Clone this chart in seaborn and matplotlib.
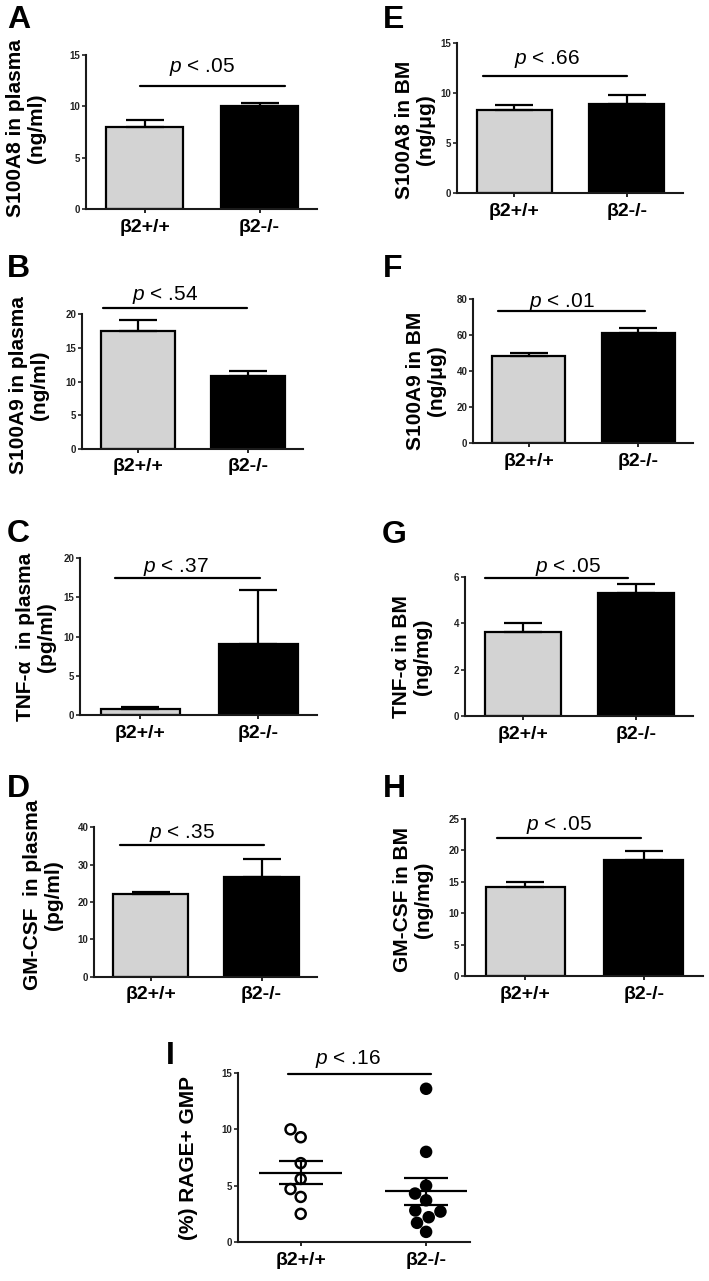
"""
Multi-panel bar / scatter figure: plasma vs BM cytokines in beta2 mice
"""
import numpy as np
import pandas as pd

import matplotlib
matplotlib.use("Agg")
import matplotlib.pyplot as plt
import seaborn as sns

W, H = 709, 1281

# ============================================================
#  Data (mean, SEM per genotype)
# ============================================================
groups = ["β2+/+", "β2-/-"]

s100a8_plasma = [8.0, 10.0]
s100a8_plasma_sem = [0.65, 0.3]
s100a9_plasma = [17.5, 10.8]
s100a9_plasma_sem = [1.6, 0.8]
tnf_plasma = [0.72, 9.0]
tnf_plasma_sem = [0.34, 7.0]
gmcsf_plasma = [22.2, 26.7]
gmcsf_plasma_sem = [0.6, 4.7]

s100a8_bm = [8.3, 8.9]
s100a8_bm_sem = [0.55, 0.95]
s100a9_bm = [48.3, 60.8]
s100a9_bm_sem = [1.8, 3.2]
tnf_bm = [3.62, 5.28]
tnf_bm_sem = [0.4, 0.4]
gmcsf_bm = [14.1, 18.5]
gmcsf_bm_sem = [0.8, 1.4]

# panel I: (%) RAGE+ GMP, individual mice
rage_wt = [10.0, 9.3, 7.0, 5.6, 4.7, 4.0, 2.5]
rage_ko = [13.6, 8.0, 5.0, 4.3, 3.7, 2.8, 2.7, 2.2, 1.7, 0.9]

p_values = {"A": ".05", "B": ".54", "C": ".37", "D": ".35",
            "E": ".66", "F": ".01", "G": ".05", "H": ".05", "I": ".16"}

# ============================================================
#  Style
# ============================================================
sns.set_theme(style="ticks")
plt.rcParams["font.family"] = ["Liberation Sans", "DejaVu Sans"]
plt.rcParams["mathtext.fontset"] = "custom"
plt.rcParams["mathtext.it"] = "Liberation Sans:italic"
plt.rcParams["mathtext.rm"] = "Liberation Sans"
for key in ("text.color", "axes.labelcolor", "xtick.color", "ytick.color"):
    plt.rcParams[key] = "black"

BAR_COLORS = ["#d3d3d3", "#000000"]
LW = 1.6


def rect(l, r, t, b):
    return [l / W, 1 - b / H, (r - l) / W, (b - t) / H]


# letter, means, sems, ylabel, yticks, axes px (l, r, t, b),
# p-line (x0, x1, y), p-text (x, y), ylabel centre px, letter (x, baseline)
panels = [
    ("A", s100a8_plasma, s100a8_plasma_sem, "S100A8 in plasma\n(ng/ml)", [0, 5, 10, 15],
     (86, 317, 55, 209.3), (-0.04, 1.22, 12.0), (0.5, 13.8), (26, 128), (7, 28)),
    ("B", s100a9_plasma, s100a9_plasma_sem, "S100A9 in plasma\n(ng/ml)", [0, 5, 10, 15, 20],
     (82, 303, 314.3, 448.7), (-0.32, 0.99, 21.0), (0.25, 22.8), (29, 385), (7, 277)),
    ("C", tnf_plasma, tnf_plasma_sem, "TNF-α  in plasma\n(pg/ml)", [0, 5, 10, 15, 20],
     (80, 317, 558.3, 715), (-0.21, 1.02, 17.5), (0.3, 18.9), (36, 637), (7, 542)),
    ("D", gmcsf_plasma, gmcsf_plasma_sem, "GM-CSF  in plasma\n(pg/ml)", [0, 10, 20, 30, 40],
     (94, 317, 827.3, 976.7), (-0.28, 1.02, 35.3), (0.28, 38.6), (43, 895), (7, 797)),
    ("E", s100a8_bm, s100a8_bm_sem, "S100A8 in BM\n(ng/μg)", [0, 5, 10, 15],
     (457, 683, 43.3, 193.3), (-0.28, 1.0, 11.7), (0.29, 13.4), (415, 130), (383, 28)),
    ("F", s100a9_bm, s100a9_bm_sem, "S100A9 in BM\n(ng/μg)", [0, 20, 40, 60, 80],
     (473, 693, 298.7, 443.3), (-0.28, 1.06, 73.2), (0.3, 78.3), (426, 381), (383, 277)),
    ("G", tnf_bm, tnf_bm_sem, "TNF-α in BM\n(ng/mg)", [0, 2, 4, 6],
     (465, 693, 576.7, 716), (-0.33, 0.93, 5.95), (0.4, 6.43), (412, 657), (382, 543)),
    ("H", gmcsf_bm, gmcsf_bm_sem, "GM-CSF in BM\n(ng/mg)", [0, 5, 10, 15, 20, 25],
     (465, 703, 818.7, 976), (-0.24, 0.98, 22.0), (0.28, 24.0), (413, 900), (383, 797)),
]

fig = plt.figure(figsize=(W / 100, H / 100), dpi=100)


def style_axes(ax, yticks, xlim):
    sns.despine(ax=ax)
    for s in ("left", "bottom"):
        ax.spines[s].set_linewidth(1.5)
        ax.spines[s].set_color("#1a1a1a")
    ax.set_ylim(yticks[0], yticks[-1])
    ax.set_yticks(yticks)
    ax.set_xlim(*xlim)
    ax.set_xlabel("")
    ax.set_ylabel("")
    ax.tick_params(axis="y", length=3, width=1.2, labelsize=7, pad=1,
                   colors="#222222")
    ax.tick_params(axis="x", length=3, width=1.2, labelsize=14, pad=4)
    for t in ax.get_yticklabels():
        t.set_fontweight("bold")
    for t in ax.get_xticklabels():
        t.set_fontweight("bold")
    ax.set_facecolor("none")


def add_p(ax, letter, pline, ptext):
    x0, x1, y = pline
    ax.plot([x0, x1], [y, y], color="black", lw=LW, clip_on=False)
    ax.text(ptext[0], ptext[1], f"$p$ < {p_values[letter]}", ha="center",
            va="center", fontsize=15)


def add_labels(letter, ylabel, lab_xy, let_xy):
    fig.text(lab_xy[0] / W, 1 - lab_xy[1] / H, ylabel, rotation=90, ha="center",
             va="center", fontsize=15, fontweight="bold", multialignment="center",
             linespacing=1.15)
    fig.text(let_xy[0] / W, 1 - let_xy[1] / H, letter, ha="left", va="baseline",
             fontsize=23, fontweight="bold")


# ============================================================
#  Bar panels A-H
# ============================================================
for letter, means, sems, ylabel, yticks, box, pline, ptext, lab_xy, let_xy in panels:
    ax = fig.add_axes(rect(*box))
    df = pd.DataFrame({"group": groups, "value": means})
    sns.barplot(data=df, x="group", y="value", hue="group", order=groups,
                palette=BAR_COLORS, width=0.67, edgecolor="black", linewidth=LW,
                saturation=1, errorbar=None, legend=False, ax=ax)
    ax.errorbar(np.arange(len(groups)), means,
                yerr=[np.zeros(len(sems)), sems], fmt="none", ecolor="black",
                elinewidth=LW, capsize=13.5, capthick=LW, zorder=3)
    style_axes(ax, yticks, (-0.51, 1.5))
    add_p(ax, letter, pline, ptext)
    add_labels(letter, ylabel, lab_xy, let_xy)

# ============================================================
#  Scatter panel I
# ============================================================
ax = fig.add_axes(rect(238, 470, 1073, 1242))
rage_df = pd.DataFrame({
    "group": [groups[0]] * len(rage_wt) + [groups[1]] * len(rage_ko),
    "value": rage_wt + rage_ko,
})
sns.swarmplot(data=rage_df, x="group", y="value", hue="group", order=groups,
              palette=["white", "black"], edgecolor="black", linewidth=1.8,
              size=7.2, legend=False, ax=ax, zorder=2)
for i, vals in enumerate([rage_wt, rage_ko]):
    m = np.mean(vals)
    se = np.std(vals, ddof=1) / np.sqrt(len(vals))
    ax.hlines(m, i - 0.33, i + 0.33, color="black", lw=LW, zorder=4)
    ax.errorbar(i, m, yerr=se, fmt="none", ecolor="black", elinewidth=LW,
                capsize=16, capthick=LW, zorder=4)
style_axes(ax, [0, 5, 10, 15], (-0.5, 1.35))
add_p(ax, "I", (-0.1, 1.04, 14.9), (0.38, 16.2))
add_labels("I", "(%) RAGE+ GMP", (189, 1158), (166, 1064))

fig.savefig("out.png", dpi=100)
plt.close(fig)
